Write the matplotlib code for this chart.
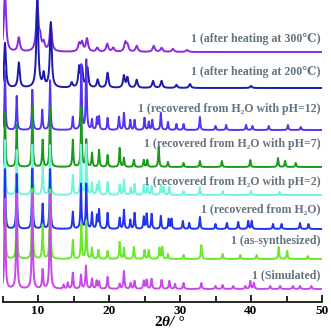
import numpy as np
import matplotlib
matplotlib.use('Agg')
import matplotlib.pyplot as plt

# peak positions (2theta) and heights for each pattern
h300_pos = [5.35, 7.3, 9.9, 10.3, 10.8, 11.8, 15.8, 16.2, 16.9, 18.35, 19.75, 20.6, 22.3, 22.6, 23.9, 26.3, 27.4, 29.0, 31.0]
h300_h = [60, 14, 48, 12, 8, 27, 8, 9, 13, 4, 8, 4, 9, 6, 6, 6, 4, 3, 2]

h200_pos = [5.35, 7.3, 9.9, 10.8, 11.8, 14.75, 15.8, 16.2, 16.95, 18.4, 19.8, 22.1, 22.6, 23.9, 26.2, 27.4, 29.5, 31.4, 40.0]
h200_h = [45, 25, 90, 13, 65, 5, 20, 18, 20, 8, 15, 12, 10, 8, 7, 7, 3, 4, 2]

ph12_pos = [5.35, 7.0, 9.2, 10.6, 11.7, 14.9, 16.1, 16.8, 17.6, 18.3, 18.6, 19.8, 21.4, 22.1, 23.0, 23.6, 25.0,
            25.6, 26.1, 27.3, 28.3, 29.5, 30.5, 32.8, 35.0, 36.5, 39.3, 40.2, 42.5, 45.2, 47.0]
ph12_h = [60, 34, 40, 20, 50, 13, 65, 70, 10, 12, 13, 12, 13, 17, 10, 10, 12, 8, 10, 17, 8, 6, 6, 13, 4, 5, 5, 4, 4, 5, 3]

ph7_pos = [5.35, 7.0, 9.2, 10.65, 11.7, 14.9, 16.1, 16.8, 17.6, 18.6, 19.8, 21.5, 22.1, 23.5, 24.9, 25.4, 27.0,
           28.3, 30.5, 32.8, 35.9, 39.9, 43.8, 44.8, 46.3]
ph7_h = [55, 42, 60, 27, 60, 27, 60, 27, 14, 17, 12, 19, 9, 7, 7, 7, 20, 5, 4, 6, 6, 7, 9, 6, 4]

ph2_pos = [5.35, 7.0, 9.2, 10.65, 11.7, 14.9, 16.05, 16.8, 17.6, 18.3, 18.6, 19.8, 21.5, 22.1, 23.05, 23.6, 24.9,
           25.4, 26.0, 27.3, 27.7, 28.5, 30.5, 32.8, 36.0, 40.0, 44.0]
ph2_h = [55, 45, 50, 30, 50, 20, 50, 50, 12, 9, 13, 13, 10, 15, 7, 11, 10, 10, 9, 10, 8, 8, 4, 8, 4, 4, 3]

h2o_pos = [5.35, 7.0, 9.2, 10.65, 11.7, 14.9, 16.05, 16.8, 17.6, 18.3, 18.6, 19.8, 21.5, 22.1, 23.0, 23.6, 24.9,
           25.3, 26.0, 27.3, 28.4, 28.8, 30.4, 31.3, 32.8, 35.0, 36.6, 38.2, 39.6, 40.1, 43.1, 44.3, 46.9, 48.1]
h2o_h = [60, 55, 60, 25, 60, 17, 45, 45, 16, 13, 19, 16, 11, 19, 9, 16, 12, 15, 15, 13, 10, 10, 8, 6, 12, 5, 6,
         7, 8, 8, 5, 5, 6, 5]

syn_pos = [5.35, 7.0, 9.2, 10.65, 11.7, 14.9, 16.1, 16.8, 17.6, 18.5, 19.8, 21.5, 22.1, 23.5, 25.0, 25.6, 27.1,
           27.5, 28.3, 30.5, 33.0, 36.0, 38.5, 40.8, 43.9, 45.1, 48.0]
syn_h = [60, 60, 70, 34, 70, 19, 35, 38, 11, 9, 8, 17, 11, 12, 9, 9, 11, 12, 5, 4, 14, 5, 4, 4, 12, 8, 3]

sim_pos = [5.35, 7.0, 9.2, 10.65, 11.7, 13.6, 14.2, 14.9, 16.05, 16.75, 17.6, 18.25, 18.6, 19.8, 21.5, 22.1,
           23.05, 23.6, 24.9, 25.3, 26.0, 27.4, 28.5, 29.3, 30.5, 33.0, 35.0, 36.0, 37.5, 39.2, 39.9, 40.4,
           42.7, 44.1, 45.9, 46.9, 48.5]
sim_h = [90, 95, 95, 19, 95, 4, 6, 16, 14, 23, 10, 8, 7, 12, 5, 18, 6, 8, 8, 9, 10, 9, 8, 5, 6, 6, 3, 4, 3, 3,
         8, 6, 3, 3, 3, 3, 3]

labels = ['1 (after heating at 300\u2103)', '1 (after heating at 200\u2103)',
          '1 (recovered from H\u2082O with pH=12)', '1 (recovered from H\u2082O with pH=7)',
          '1 (recovered from H\u2082O with pH=2)', '1 (recovered from H\u2082O)',
          '1 (as-synthesized)', '1 (Simulated)']
offsets = [250, 214, 172, 135, 107, 73, 43, 13]
label_y = [263, 230, 193, 158, 120, 93, 61, 27]
colors = ['#8a2be2', '#1c1ca8', '#5533f5', '#1a9a1a', '#70f5dc', '#2233ee', '#6ae82a', '#c848e8']
widths = [0.18, 0.15, 0.08, 0.08, 0.08, 0.08, 0.08, 0.09]

patterns = [(h300_pos, h300_h), (h200_pos, h200_h), (ph12_pos, ph12_h), (ph7_pos, ph7_h),
            (ph2_pos, ph2_h), (h2o_pos, h2o_h), (syn_pos, syn_h), (sim_pos, sim_h)]

x = np.linspace(5, 50, 3000)


def profile(pos, h, w):
    y = np.zeros_like(x)
    for p, a in zip(pos, h):
        y += a * w ** 2 / ((x - p) ** 2 + w ** 2)
    return y


fig = plt.figure(figsize=(3.31, 3.31), dpi=100)
ax = fig.add_axes([2.5 / 331, 29 / 331, 319.5 / 331, 302 / 331])

for (pos, h), off, c, w in zip(patterns, offsets, colors, widths):
    ax.plot(x, off + profile(pos, h, w), color=c, lw=1.4)

tfont = dict(family=['Liberation Serif', 'DejaVu Serif'], weight='bold', size=8.6, color='#65737f')
for lab, ly in zip(labels, label_y):
    ax.text(49.8, ly, lab, ha='right', va='center', **tfont)

ax.set_xlim(5, 50)
ax.set_ylim(0, 302)
for s in ['left', 'right', 'top']:
    ax.spines[s].set_visible(False)
ax.spines['bottom'].set_linewidth(1.2)
ax.set_yticks([])
ax.set_xticks([10, 20, 30, 40, 50])
ax.set_xticks([5, 15, 25, 35, 45], minor=True)
ax.tick_params(axis='x', which='major', direction='in', length=5, width=1.2, pad=2)
ax.tick_params(axis='x', which='minor', direction='in', length=4, width=1.2)
for t in ax.get_xticklabels():
    t.set_family(['Liberation Serif', 'DejaVu Serif'])
    t.set_weight('bold')
    t.set_fontsize(9.5)
ax.patch.set_visible(False)

fig.text(0.49, 0.027, '2', ha='right', va='center', family='Liberation Serif', weight='bold', size=11)
fig.text(0.49, 0.027, '\u03b8/ \u00b0', ha='left', va='center', family='Liberation Serif', weight='bold',
         style='italic', size=11)

fig.savefig('out.png', dpi=100)
